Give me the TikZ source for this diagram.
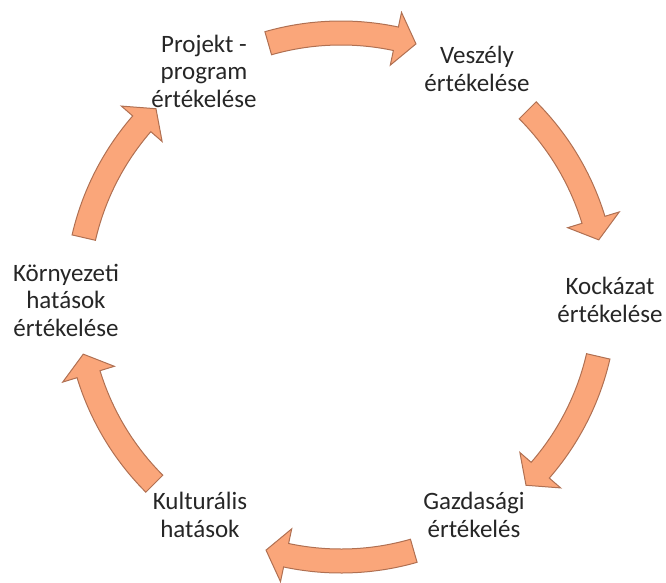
\documentclass[tikz,border=0pt]{standalone}
\usepackage{fontspec}
\setmainfont{Carlito}
\usepackage{xcolor}
\usepackage{tikz}

\definecolor{arrowfill}{RGB}{250,166,122}
\definecolor{arrowline}{RGB}{176,112,82}

\begin{document}
\begin{tikzpicture}[x=1pt,y=1pt,
                    main node/.style={align=center,text=black!85,font=\fontsize{25}{27.5}\selectfont},
                    cycle arrow/.style={fill=arrowfill,draw=arrowline,line width=1pt,line join=miter}]

 \useasboundingbox (-341,-285) rectangle (325,297);

 \node[main node] (1) at (-137,226) {Projekt -\\program\\értékelése};

 \node[main node] (2) at (136,228) {Veszély\\értékelése};

 \node[main node] (3) at (269,-3) {Kockázat\\értékelése};

 \node[main node] (4) at (133,-218) {Gazdasági\\értékelés};

 \node[main node] (5) at (-141,-218) {Kulturális\\hatások};

 \node[main node] (6) at (-275,-3) {Környezeti\\hatások\\értékelése};



 \foreach \a in {90,29,-29,-90,-151,151}
   \draw[cycle arrow] (\a+16:276pt) arc[start angle=\a+16, end angle=\a-12, radius=276pt]
     -- (\a-12:291pt) -- (\a-16.5:264pt) -- (\a-12:237pt) -- (\a-12:252pt)
     arc[start angle=\a-12, end angle=\a+16, radius=252pt] -- cycle;

\end{tikzpicture}
\end{document}
